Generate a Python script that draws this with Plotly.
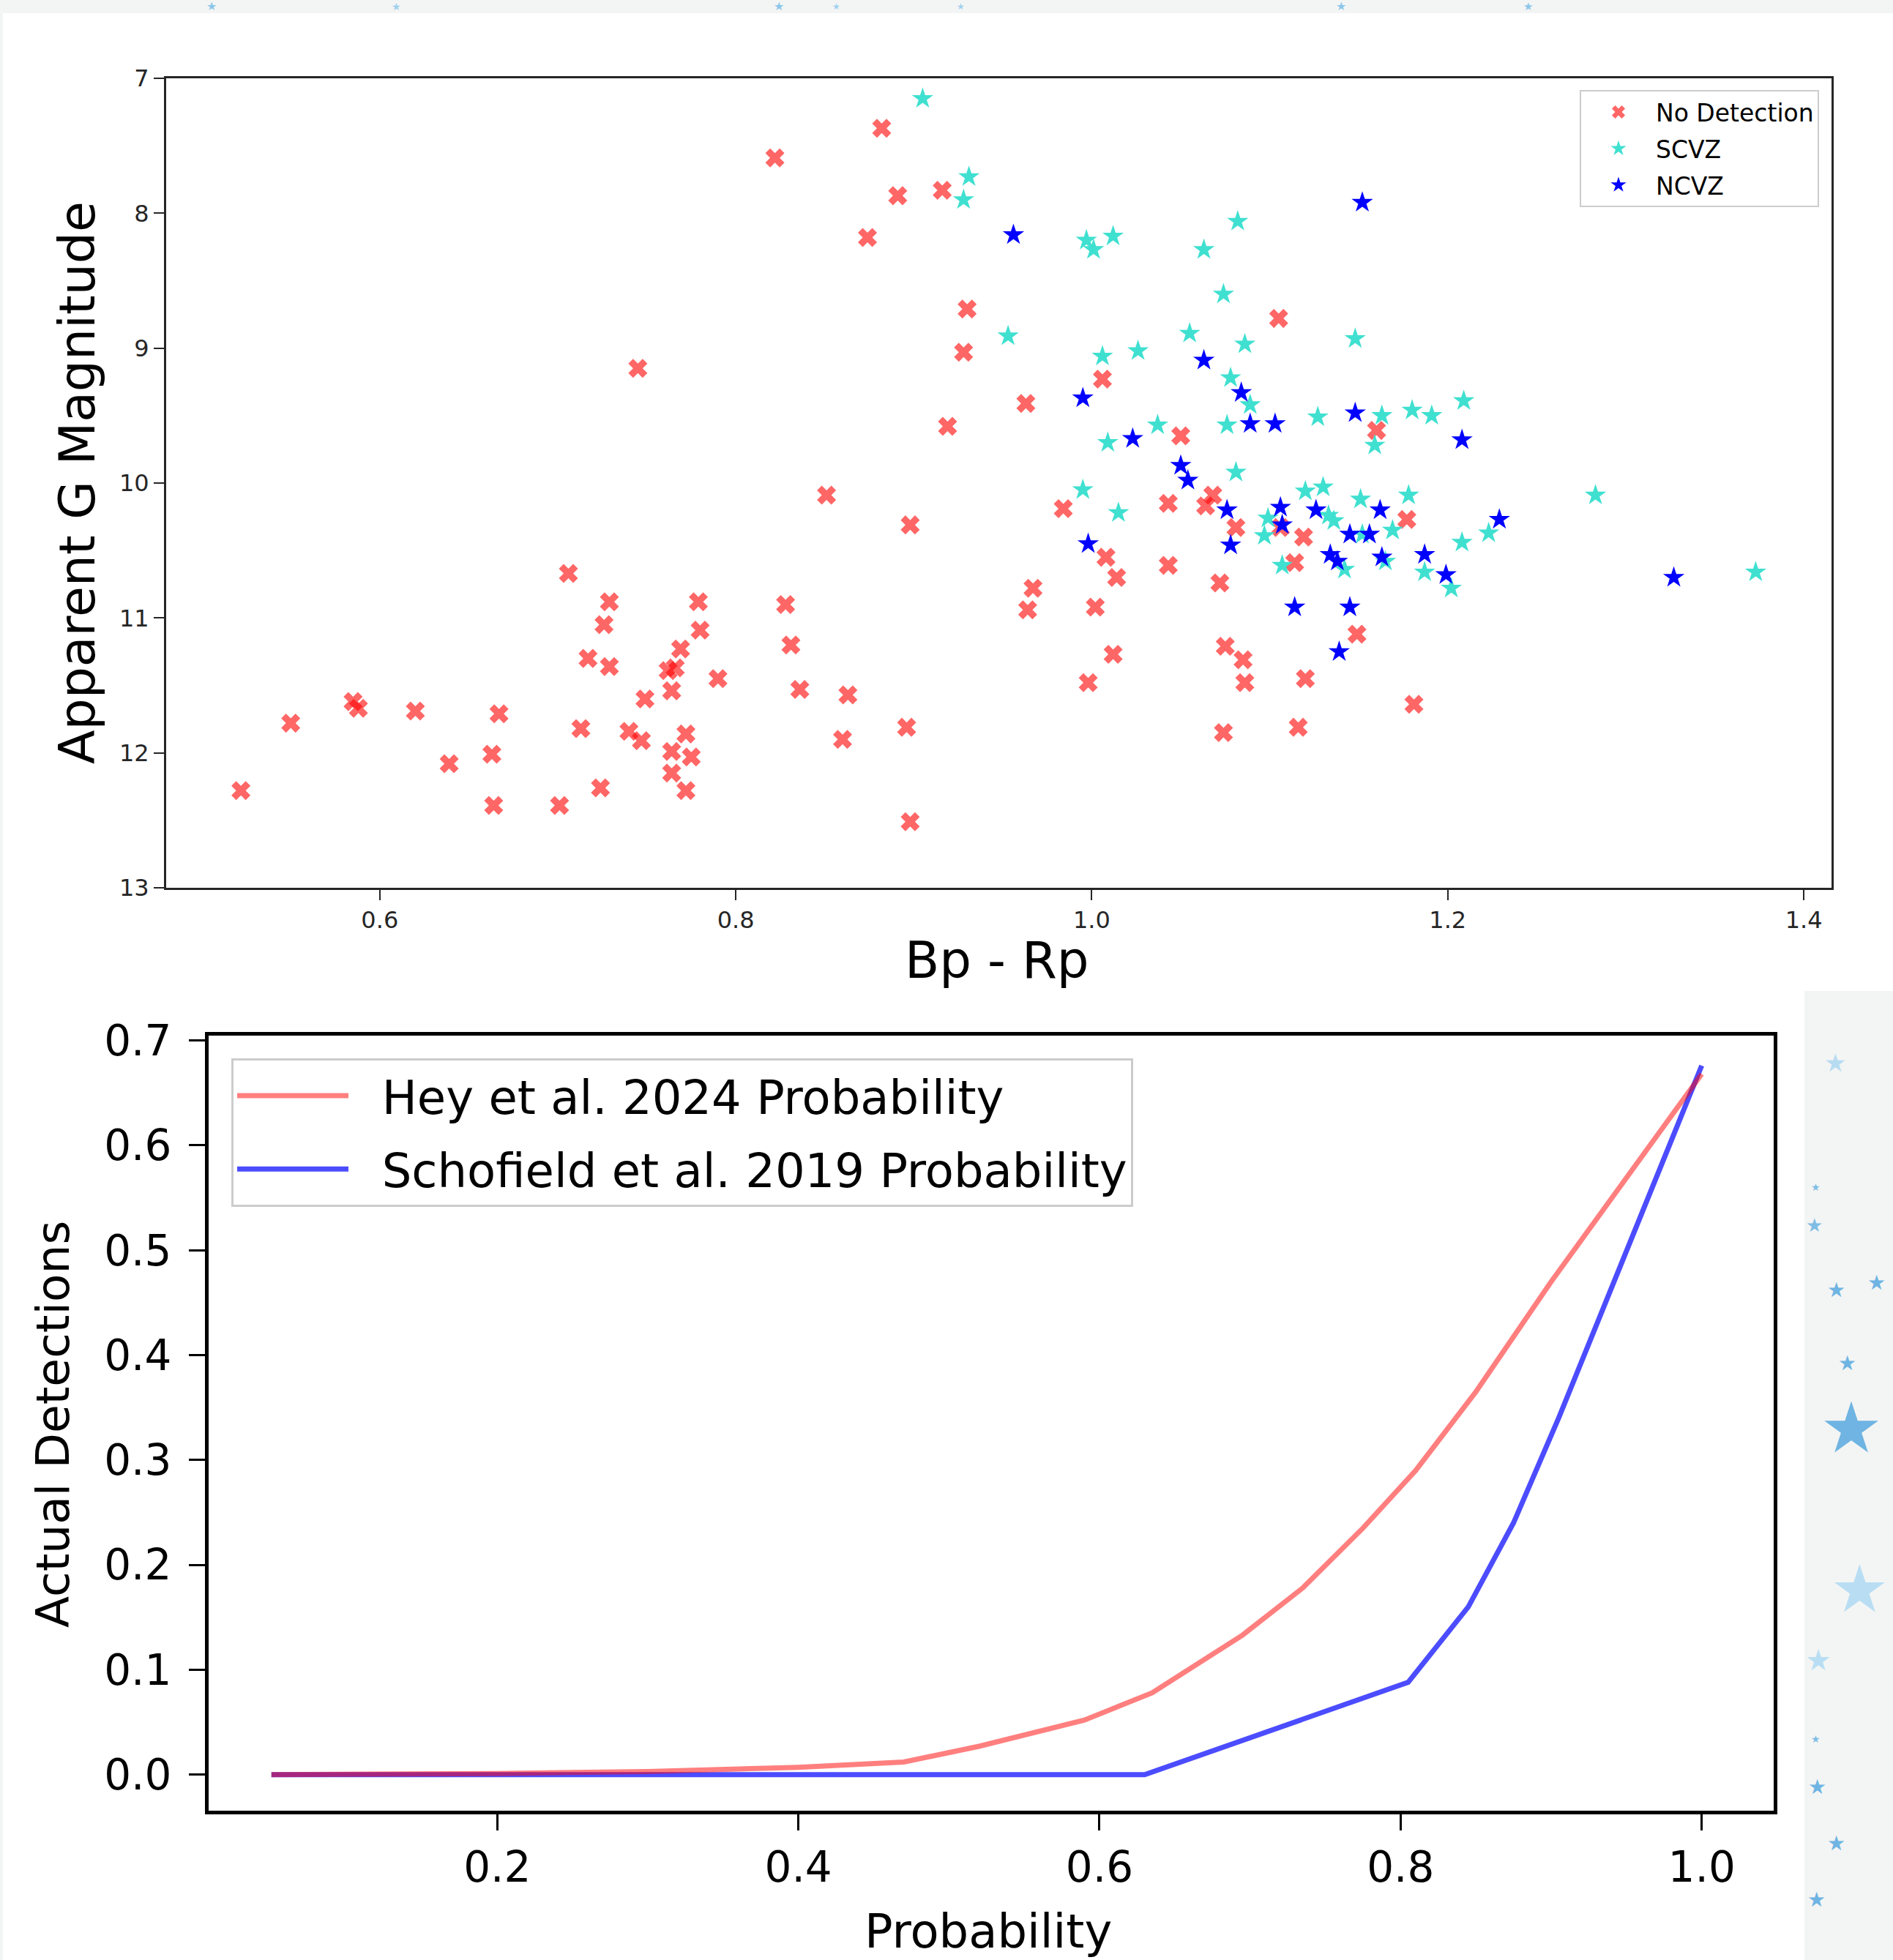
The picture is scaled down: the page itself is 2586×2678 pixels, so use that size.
import plotly.graph_objects as go

W, H = 2586, 2678

# ---------------- data ----------------
# Top panel: Bp - Rp colour vs apparent G magnitude
nodet_bprp = [0.745, 0.882, 0.822, 0.891, 0.916, 0.874, 0.930, 1.105, 0.928, 1.006,
              0.963, 0.919, 1.050, 0.851, 0.984, 0.898, 1.043, 1.068, 1.064, 1.106,
              1.081, 1.119, 1.008, 1.043, 1.114, 1.014, 0.967, 1.072, 0.828, 0.964,
              1.002, 0.831, 1.012, 1.075, 1.085, 0.836, 0.863, 0.998, 1.086, 1.120,
              0.896, 0.860, 1.074, 1.116, 0.898, 1.160, 1.177, 1.149, 1.181,
              0.706, 0.729, 0.779, 0.726, 0.780, 0.769, 0.717, 0.729, 0.762, 0.766,
              0.790, 0.764, 0.749, 0.713, 0.740, 0.747, 0.772, 0.764, 0.775, 0.764,
              0.772, 0.724, 0.701, 0.664, 0.663, 0.639, 0.667, 0.620, 0.585, 0.588,
              0.550, 0.522]
nodet_gmag = [9.15, 7.37, 7.59, 7.87, 7.83, 8.18, 8.71, 8.78, 9.03, 9.23,
              9.41, 9.58, 9.65, 10.09, 10.19, 10.31, 10.15, 10.09, 10.17, 10.33,
              10.33, 10.40, 10.55, 10.61, 10.59, 10.70, 10.78, 10.74, 10.90, 10.94,
              10.92, 11.20, 11.27, 11.21, 11.31, 11.53, 11.57, 11.48, 11.48, 11.45,
              11.81, 11.90, 11.85, 11.81, 12.51, 9.61, 10.27, 11.12, 11.64,
              10.67, 10.88, 10.88, 11.05, 11.09, 11.23, 11.30, 11.36, 11.39, 11.37,
              11.45, 11.54, 11.60, 11.82, 11.84, 11.91, 11.86, 11.99, 12.03, 12.15,
              12.28, 12.26, 12.39, 12.39, 12.01, 12.08, 11.71, 11.69, 11.62, 11.67,
              11.78, 12.28]

scvz_bprp = [0.905, 0.931, 0.928, 0.997, 1.001, 1.012, 1.063, 1.082, 1.074, 0.953,
             1.055, 1.086, 1.006, 1.026, 1.078, 1.089, 1.037, 1.009, 1.076, 1.127,
             1.081, 0.995, 1.120, 1.015, 1.099, 1.097, 1.107, 1.148, 1.209, 1.163,
             1.180, 1.191, 1.159, 1.130, 1.151, 1.178, 1.283, 1.133, 1.136, 1.152,
             1.169, 1.223, 1.208, 1.142, 1.165, 1.187, 1.202, 1.373]
scvz_gmag = [7.15, 7.73, 7.90, 8.20, 8.27, 8.17, 8.27, 8.06, 8.60, 8.91,
             8.89, 8.97, 9.06, 9.02, 9.22, 9.42, 9.57, 9.70, 9.57, 9.51,
             9.92, 10.05, 10.06, 10.22, 10.26, 10.39, 10.61, 8.93, 9.39, 9.50,
             9.46, 9.50, 9.72, 10.03, 10.12, 10.09, 10.09, 10.24, 10.28, 10.38,
             10.35, 10.37, 10.44, 10.64, 10.58, 10.66, 10.78, 10.66]

ncvz_bprp = [0.956, 1.063, 1.084, 0.995, 1.023, 1.089, 1.103, 1.050, 1.054, 1.076,
             1.106, 1.126, 1.107, 0.998, 1.078, 1.114, 1.152, 1.148, 1.208, 1.162,
             1.229, 1.145, 1.156, 1.134, 1.138, 1.163, 1.187, 1.199, 1.327, 1.145,
             1.139]
ncvz_gmag = [8.16, 9.09, 9.33, 9.37, 9.67, 9.56, 9.56, 9.87, 9.98, 10.20,
             10.18, 10.20, 10.31, 10.45, 10.46, 10.92, 7.92, 9.48, 9.68, 10.20,
             10.27, 10.38, 10.38, 10.53, 10.58, 10.55, 10.53, 10.68, 10.70, 10.92,
             11.25]

bprp_ticks = [0.6, 0.8, 1.0, 1.2, 1.4]
gmag_ticks = [7, 8, 9, 10, 11, 12, 13]

# Bottom panel: probability vs actual detections
prob_hey = [0.05, 0.2, 0.3, 0.4, 0.47, 0.52, 0.59, 0.635, 0.695, 0.735, 0.775, 0.81, 0.85, 0.9, 1.0]
det_hey = [0.0, 0.001, 0.003, 0.007, 0.012, 0.027, 0.052, 0.078, 0.133, 0.178, 0.235, 0.29, 0.365, 0.47, 0.668]

prob_schofield = [0.05, 0.2, 0.4, 0.63, 0.805, 0.845, 0.875, 0.905, 1.0]
det_schofield = [0.0, 0.0, 0.0, 0.0, 0.088, 0.16, 0.24, 0.34, 0.676]

prob_ticks = [0.2, 0.4, 0.6, 0.8, 1.0]
det_ticks = [0.0, 0.1, 0.2, 0.3, 0.4, 0.5, 0.6, 0.7]


def fx(p):
    return p / W


def fy(p):
    return 1 - p / H


FONT = "DejaVu Sans"
NB = "\u00a0"
fig = go.Figure()

# ---- top scatter ----
fig.add_trace(go.Scatter(
    x=nodet_bprp, y=nodet_gmag, mode="markers", name="No Detection",
    marker=dict(symbol="x", size=23, color="rgba(255,0,0,0.6)", line=dict(width=0)),
    xaxis="x", yaxis="y", legend="legend", legendgroup="nd"))
fig.add_trace(go.Scatter(
    x=scvz_bprp, y=scvz_gmag, mode="markers", name="SCVZ",
    marker=dict(symbol="star", size=22, color="#40E0D0", line=dict(width=0)),
    xaxis="x", yaxis="y", legend="legend", legendgroup="s"))
fig.add_trace(go.Scatter(
    x=ncvz_bprp, y=ncvz_gmag, mode="markers", name="NCVZ",
    marker=dict(symbol="star", size=22, color="#0000FF", line=dict(width=0)),
    xaxis="x", yaxis="y", legend="legend", legendgroup="n"))

# ---- bottom lines (Schofield drawn first, Hey on top) ----
fig.add_trace(go.Scatter(
    x=prob_schofield, y=det_schofield, mode="lines",
    name=NB + NB + "Schofield et al. 2019 Probability",
    line=dict(color="rgba(0,0,255,0.7)", width=7),
    xaxis="x2", yaxis="y2", legend="legend2", legendrank=2, legendgroup="sch"))
fig.add_trace(go.Scatter(
    x=prob_hey, y=det_hey, mode="lines",
    name=NB + NB + "Hey et al. 2024 Probability",
    line=dict(color="rgba(255,0,0,0.5)", width=7),
    xaxis="x2", yaxis="y2", legend="legend2", legendrank=1, legendgroup="hey"))

top_axis = dict(showline=True, mirror=True, linecolor="#262626", linewidth=3,
                ticks="outside", ticklen=14, tickwidth=2, tickcolor="#262626",
                tickfont=dict(family=FONT, size=32, color="#262626"),
                showgrid=False, zeroline=False, automargin=False)
bot_axis = dict(showline=True, mirror=True, linecolor="#000000", linewidth=5,
                ticks="outside", ticklen=22, tickwidth=3, tickcolor="#000000",
                tickfont=dict(family=FONT, size=58, color="#000000"),
                showgrid=False, zeroline=False, automargin=False)

fig.update_layout(
    template="none",
    width=W, height=H,
    margin=dict(l=0, r=0, t=0, b=0, pad=0, autoexpand=False),
    paper_bgcolor="#f3f5f4",
    plot_bgcolor="#ffffff",
    font=dict(family=FONT, color="#000000"),
    xaxis=dict(domain=[fx(227), fx(2502)], anchor="y", range=[0.48, 1.4156],
               tickvals=bprp_ticks, ticktext=["%.1f" % v for v in bprp_ticks], **top_axis),
    yaxis=dict(domain=[fy(1213), fy(107)], anchor="x", range=[13, 7],
               tickvals=gmag_ticks, ticktext=[str(v) for v in gmag_ticks], **top_axis),
    xaxis2=dict(domain=[fx(285), fx(2423)], anchor="y2", range=[0.0083, 1.0478],
                tickvals=prob_ticks, ticktext=["%.1f" % v for v in prob_ticks],
                ticklabelstandoff=0, **bot_axis),
    yaxis2=dict(domain=[fy(2474), fy(1415)], anchor="x2", range=[-0.0344, 0.7046],
                tickvals=det_ticks, ticktext=["%.1f" % v for v in det_ticks],
                ticklabelstandoff=12, **bot_axis),
    legend=dict(x=fx(2485), xanchor="right", y=fy(123), yanchor="top",
                font=dict(family=FONT, size=33, color="#000000"),
                bgcolor="rgba(255,255,255,0.8)", bordercolor="#cccccc", borderwidth=2,
                itemwidth=92, tracegroupgap=4),
    legend2=dict(x=fx(316), xanchor="left", y=fy(1446), yanchor="top",
                 font=dict(family=FONT, size=64, color="#000000"),
                 bgcolor="rgba(255,255,255,0.8)", bordercolor="#cccccc", borderwidth=3,
                 itemwidth=152, tracegroupgap=14),
    showlegend=True,
)

# ---- background panels (white image areas over the starry backdrop) ----
fig.add_shape(type="rect", xref="paper", yref="paper", layer="below",
              x0=fx(4), x1=1, y0=fy(1354), y1=fy(18),
              fillcolor="#ffffff", line=dict(width=0))
fig.add_shape(type="rect", xref="paper", yref="paper", layer="below",
              x0=fx(4), x1=fx(2465), y0=0, y1=fy(1354),
              fillcolor="#ffffff", line=dict(width=0))

# ---- axis titles ----
fig.add_annotation(text="Bp - Rp", xref="paper", yref="paper", x=fx(1362), y=fy(1312),
                   xanchor="center", yanchor="middle", showarrow=False,
                   font=dict(family=FONT, size=69, color="#000000"))
fig.add_annotation(text="Apparent G Magnitude", xref="paper", yref="paper", x=fx(106), y=fy(660),
                   xanchor="center", yanchor="middle", showarrow=False, textangle=-90,
                   font=dict(family=FONT, size=68, color="#000000"))
fig.add_annotation(text="Probability", xref="paper", yref="paper", x=fx(1350), y=fy(2639),
                   xanchor="center", yanchor="middle", showarrow=False,
                   font=dict(family=FONT, size=64, color="#000000"))
fig.add_annotation(text="Actual Detections", xref="paper", yref="paper", x=fx(72), y=fy(1946),
                   xanchor="center", yanchor="middle", showarrow=False, textangle=-90,
                   font=dict(family=FONT, size=63, color="#000000"))

# ---- decorative background stars ----
deco = [
    (289, 9, 16, "#8cc6ea"), (541, 9, 14, "#9fd0ee"), (1064, 9, 16, "#8cc6ea"),
    (1142, 9, 12, "#9fd0ee"), (1312, 9, 12, "#9fd0ee"), (1832, 9, 16, "#8cc6ea"),
    (2087, 9, 15, "#8cc6ea"),
    (2507, 1452, 34, "#b7dcf2"), (2480, 1622, 14, "#7fbde6"), (2478, 1674, 26, "#7fbde6"),
    (2508, 1762, 28, "#6fb4e2"), (2563, 1752, 28, "#6fb4e2"), (2523, 1862, 28, "#6fb4e2"),
    (2529, 1951, 96, "#6fb4e2"), (2540, 2170, 90, "#b9def3"), (2484, 2268, 40, "#b9def3"),
    (2480, 2376, 14, "#7fbde6"), (2482, 2441, 28, "#6fb4e2"), (2508, 2518, 28, "#6fb4e2"),
    (2481, 2595, 28, "#6fb4e2"),
]
for (dx, dy, ds, dc) in deco:
    fig.add_annotation(text="★", xref="paper", yref="paper", x=fx(dx), y=fy(dy),
                       xanchor="center", yanchor="middle", showarrow=False,
                       font=dict(family=FONT, size=ds, color=dc))

fig.write_html(
    "out.html",
    config={"displayModeBar": False},
    post_script="document.body.style.margin='0px';document.body.style.overflow='hidden';",
)
